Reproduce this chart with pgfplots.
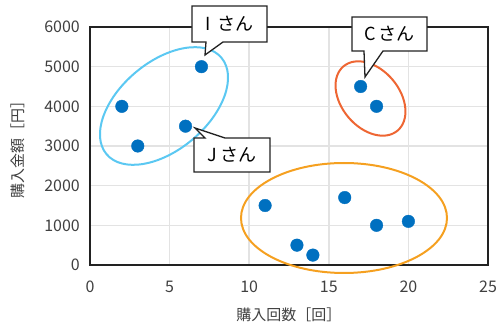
\documentclass[border=0pt]{standalone}
\usepackage{fontspec}
\setmainfont{Noto Sans CJK JP}
\usepackage{pgfplots}
\pgfplotsset{compat=1.18}

\definecolor{ptblue}{HTML}{0070C0}
\definecolor{ringcyan}{HTML}{5BC8F2}
\definecolor{ringred}{HTML}{EE6633}
\definecolor{ringorange}{HTML}{F5A020}
\definecolor{gridgray}{HTML}{E3E3E3}
\definecolor{labelgray}{HTML}{404040}
\definecolor{framegray}{HTML}{222222}

\begin{document}
\begin{tikzpicture}
\begin{axis}[
  at={(0,0)}, anchor=south west,
  scale only axis, width=398bp, height=238bp,
  xmin=0, xmax=25, ymin=0, ymax=6000,
  xtick={0,5,...,25}, ytick={0,1000,...,6000},
  grid=major, major grid style={gridgray, line width=1.5bp},
  axis line style={framegray, line width=1.6bp},
  tick style={draw=none},
  /pgf/number format/assume math mode=true,
  /pgf/number format/set thousands separator={},
  ticklabel style={font=\fontsize{16bp}{18bp}\selectfont, text=labelgray, inner sep=0pt},
  xticklabel style={anchor=center, yshift=-22bp},
  yticklabel style={anchor=east, xshift=-10bp},
  xlabel={購入回数［回］}, ylabel={購入金額［円］},
  label style={font=\fontsize{15bp}{18bp}\selectfont, text=labelgray},
  x label style={at={(axis description cs:0.5,0)}, anchor=center, yshift=-50bp},
  y label style={at={([xshift=-72bp]axis description cs:0,0.5)}, anchor=center},
]
\addplot[only marks, mark=*, mark size=6.3bp, mark options={draw=ptblue, fill=ptblue}] table {
x  y
2  4000
3  3000
6  3500
7  5000
17 4500
18 4000
11 1500
13 500
14 250
16 1700
18 1000
20 1100
};
\end{axis}

% group rings and name callouts, in picture units (1 = 1bp, y downwards)
\begin{scope}[shift={(-90bp,265bp)}, x=1bp, y=-1bp]
  \draw[ringcyan, line width=2bp, rotate around={40:(164,106)}]
    (164,106) ellipse [x radius=75, y radius=44];
  \draw[ringred, line width=2bp, rotate around={-50:(370.5,98.5)}]
    (370.5,98.5) ellipse [x radius=42, y radius=29];
  \draw[ringorange, line width=2bp]
    (344,218) ellipse [x radius=103, y radius=55];

  \tikzset{callout/.style={draw=framegray, fill=white, line width=1.3bp, line join=miter},
    calltext/.style={text=black, font=\fontsize{18bp}{20bp}\selectfont}}
  \draw[callout] (192,6) -- (267,6) -- (267,42) -- (223,42) -- (205,55)
    -- (206,42) -- (192,42) -- cycle;
  \node[calltext] at (229.5,24) {I\hspace{6bp}さん};

  \draw[callout] (194,138) -- (205,138) -- (195,128) -- (225,138) -- (270,138)
    -- (270,172) -- (194,172) -- cycle;
  \node[calltext] at (232,155) {J\hspace{4bp}さん};

  \draw[callout] (352,17) -- (427,17) -- (427,51) -- (383,51) -- (365,77)
    -- (364,51) -- (352,51) -- cycle;
  \node[calltext] at (389.5,34) {C\hspace{3bp}さん};
\end{scope}

\pgfresetboundingbox
\path (-90bp,-62bp) rectangle (408bp,265bp);
\end{tikzpicture}
\end{document}
